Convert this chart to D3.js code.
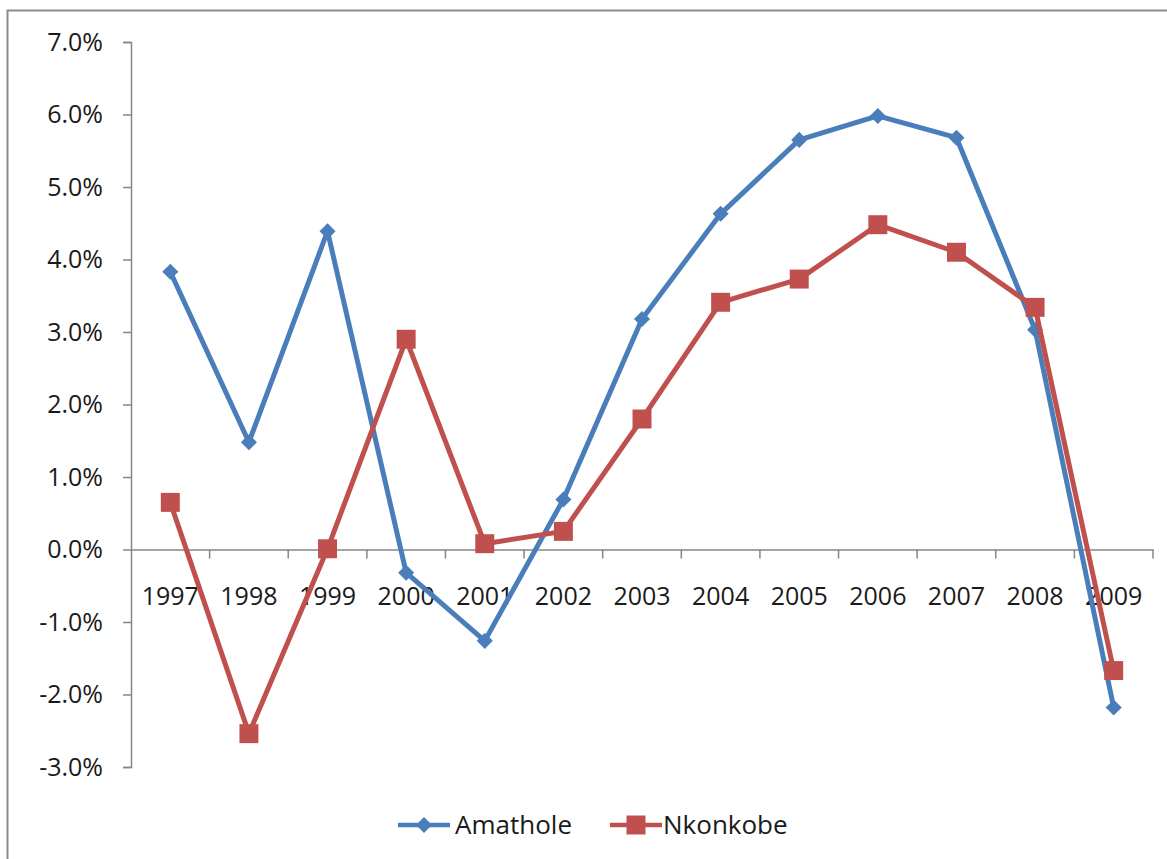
<!DOCTYPE html>
<html>
<head>
<meta charset="utf-8">
<script src="https://cdn.jsdelivr.net/npm/d3@7"></script>
<style>
  html, body { margin: 0; padding: 0; background: #fff; }
  svg { display: block; font-family: "Open Sans", "Noto Sans", sans-serif; }
</style>
</head>
<body>
<svg id="chart" width="1167" height="859"></svg>
<script>
// Annual growth rates (%), 1997–2009
const years = ["1997","1998","1999","2000","2001","2002","2003","2004","2005","2006","2007","2008","2009"];
const amathole = [3.83, 1.48, 4.39, -0.32, -1.26, 0.69, 3.18, 4.63, 5.65, 5.98, 5.68, 3.03, -2.18];
const nkonkobe = [0.65, -2.54, 0.01, 2.90, 0.08, 0.25, 1.80, 3.41, 3.73, 4.48, 4.10, 3.34, -1.67];
const yTicks = [-3, -2, -1, 0, 1, 2, 3, 4, 5, 6, 7];

const svg = d3.select("#chart");

// outer chart frame
svg.append("rect")
  .attr("x", 7.5).attr("y", 10.5)
  .attr("width", 1180).attr("height", 870)
  .attr("fill", "#fff").attr("stroke", "#8c8c8c").attr("stroke-width", 2);

const plot = { left: 131, right: 1153, top: 42, bottom: 767 };

const x = d3.scaleBand().domain(years).range([plot.left, plot.right]);
const y = d3.scaleLinear().domain([-3, 7]).range([plot.bottom, plot.top]);

const axisColor = "#868686";

// value axis
const yAxis = svg.append("g")
  .attr("transform", `translate(${plot.left},0)`)
  .call(d3.axisLeft(y).tickValues(yTicks).tickSize(8).tickPadding(20)
    .tickFormat(d => d.toFixed(1) + "%"));
yAxis.select(".domain").attr("stroke", axisColor).attr("stroke-width", 1.5);
yAxis.selectAll(".tick line").attr("stroke", axisColor).attr("stroke-width", 1.5);
yAxis.selectAll(".tick text")
  .attr("font-size", 25).attr("fill", "#1a1a1a")
  .attr("font-family", "'Open Sans', sans-serif");

// category axis at the zero line
const xAxis = svg.append("g")
  .attr("transform", `translate(0,${y(0)})`)
  .call(d3.axisBottom(x).tickSize(0).tickPadding(38));
xAxis.select(".domain").attr("stroke", axisColor).attr("stroke-width", 1.5);
xAxis.selectAll(".tick text")
  .attr("font-size", 25).attr("fill", "#1a1a1a")
  .attr("font-family", "'Open Sans', sans-serif");

// tick marks on band boundaries
const bounds = years.map(d => x(d) + x.bandwidth());
svg.append("g").selectAll("line").data(bounds).join("line")
  .attr("x1", d => d).attr("x2", d => d)
  .attr("y1", y(0)).attr("y2", y(0) + 9)
  .attr("stroke", axisColor).attr("stroke-width", 1.5);

const cx = d => x(d) + x.bandwidth() / 2;

const series = [
  { name: "Amathole", values: amathole, color: "#4A7EBB", marker: "diamond" },
  { name: "Nkonkobe", values: nkonkobe, color: "#C0504D", marker: "square" }
];

const line = d3.line()
  .x((d, i) => cx(years[i]))
  .y(d => y(d));

const diamond = d3.symbol().type(d3.symbolDiamond2).size(165);
const square = d3.symbol().type(d3.symbolSquare).size(360);

series.forEach(s => {
  const g = svg.append("g");
  g.append("path")
    .datum(s.values)
    .attr("d", line)
    .attr("fill", "none")
    .attr("stroke", s.color)
    .attr("stroke-width", 5)
    .attr("stroke-linejoin", "round");
  g.selectAll("path.m").data(s.values).join("path")
    .attr("class", "m")
    .attr("transform", (d, i) => `translate(${cx(years[i])},${y(d)})`)
    .attr("d", s.marker === "diamond" ? diamond : square)
    .attr("fill", s.color);
});

// legend
const legend = svg.append("g");
const legendItems = [
  { s: series[0], x0: 398, tx: 455 },
  { s: series[1], x0: 610, tx: 663 }
];
legendItems.forEach(item => {
  const ly = 825;
  legend.append("line")
    .attr("x1", item.x0).attr("x2", item.x0 + 52)
    .attr("y1", ly).attr("y2", ly)
    .attr("stroke", item.s.color).attr("stroke-width", 4.5);
  legend.append("path")
    .attr("transform", `translate(${item.x0 + 26},${ly})`)
    .attr("d", item.s.marker === "diamond" ? diamond : square)
    .attr("fill", item.s.color);
  legend.append("text")
    .attr("x", item.tx).attr("y", ly)
    .attr("dy", "0.35em")
    .attr("font-size", 26)
    .attr("fill", "#1a1a1a")
    .text(item.s.name);
});
</script>
</body>
</html>
